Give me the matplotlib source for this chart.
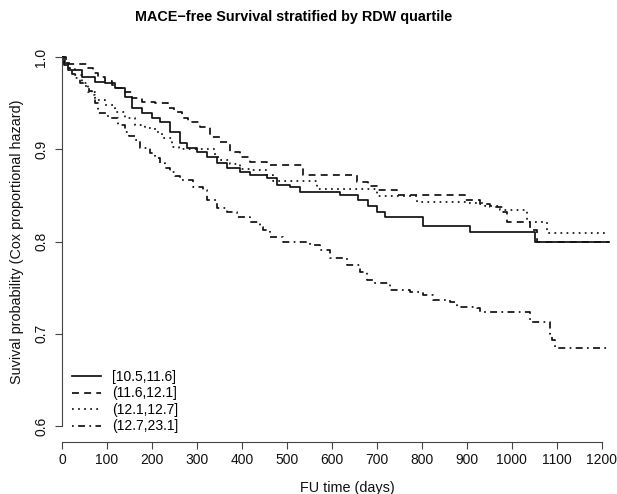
import matplotlib
matplotlib.use('Agg')
import matplotlib.pyplot as plt

plt.rcParams['font.family'] = ['Liberation Sans', 'DejaVu Sans']

# step curves (time in days, survival probability)
t_q1 = [0, 5, 13, 44, 73, 96, 118, 140, 155, 178, 200, 218, 240, 262, 277, 300, 322, 344,
        367, 396, 418, 455, 478, 507, 529, 618, 658, 680, 700, 718, 803, 907, 1051, 1215]
s_q1 = [1.0, 0.991, 0.986, 0.978, 0.973, 0.972, 0.966, 0.957, 0.945, 0.939, 0.934, 0.930,
        0.919, 0.907, 0.901, 0.897, 0.892, 0.885, 0.880, 0.875, 0.872, 0.869, 0.861, 0.859,
        0.854, 0.850, 0.845, 0.838, 0.832, 0.827, 0.817, 0.810, 0.800, 0.800]

t_q2 = [0, 8, 58, 70, 80, 95, 111, 122, 133, 155, 178, 207, 235, 250, 267, 280, 307, 329,
        351, 373, 396, 418, 455, 536, 655, 680, 700, 744, 896, 930, 951, 980, 989, 1040,
        1055, 1215]
s_q2 = [1.0, 0.992, 0.988, 0.983, 0.978, 0.974, 0.970, 0.966, 0.962, 0.955, 0.951, 0.950,
        0.945, 0.940, 0.934, 0.930, 0.924, 0.913, 0.908, 0.897, 0.892, 0.886, 0.883, 0.872,
        0.865, 0.860, 0.856, 0.850, 0.845, 0.841, 0.837, 0.832, 0.821, 0.812, 0.800, 0.800]

t_q3 = [0, 7, 18, 29, 44, 58, 73, 96, 118, 140, 162, 184, 207, 222, 244, 260, 340, 351,
        373, 395, 418, 455, 470, 567, 700, 790, 900, 940, 973, 1033, 1078, 1215]
s_q3 = [1.0, 0.993, 0.987, 0.980, 0.972, 0.962, 0.953, 0.948, 0.940, 0.934, 0.926, 0.923,
        0.919, 0.912, 0.902, 0.900, 0.892, 0.888, 0.884, 0.879, 0.877, 0.872, 0.866, 0.857,
        0.849, 0.843, 0.842, 0.838, 0.834, 0.821, 0.809, 0.809]

t_q4 = [0, 5, 13, 22, 29, 40, 51, 60, 67, 73, 80, 102, 124, 140, 150, 162, 173, 196, 207,
        218, 229, 240, 251, 262, 291, 313, 322, 344, 367, 389, 418, 440, 447, 462, 491, 551,
        573, 596, 633, 662, 678, 691, 729, 773, 802, 824, 862, 878, 922, 929, 1040, 1084,
        1090, 1096, 1215]
s_q4 = [1.0, 0.993, 0.988, 0.982, 0.977, 0.972, 0.968, 0.963, 0.959, 0.950, 0.939, 0.934,
        0.926, 0.919, 0.914, 0.910, 0.901, 0.896, 0.890, 0.885, 0.880, 0.875, 0.871, 0.867,
        0.859, 0.856, 0.845, 0.836, 0.832, 0.827, 0.821, 0.816, 0.812, 0.805, 0.799, 0.796,
        0.791, 0.782, 0.775, 0.767, 0.758, 0.755, 0.747, 0.745, 0.742, 0.737, 0.734, 0.729,
        0.728, 0.724, 0.713, 0.700, 0.693, 0.685, 0.685]

labels = ['[10.5,11.6]', '(11.6,12.1]', '(12.1,12.7]', '(12.7,23.1]']
x_ticks = list(range(0, 1201, 100))
y_ticks = [0.6, 0.7, 0.8, 0.9, 1.0]

W, H = 617, 494
fig = plt.figure(figsize=(W / 100, H / 100), dpi=100)
ax = fig.add_axes([62 / W, 52 / H, 570 / W, 401 / H])

col = '#111111'
styles = ['-', (0, (4, 3)), (0, (1, 2.5)), (0, (1, 2.5, 4, 2.5))]
curves = [(t_q1, s_q1), (t_q2, s_q2), (t_q3, s_q3), (t_q4, s_q4)]
for (t, s), ls, lab in zip(curves, styles, labels):
    ax.step(t, s, where='post', color=col, lw=1.25, linestyle=ls, label=lab)

ax.set_xlim(0, 1267)
ax.set_ylim(0.5827, 1.0173)
ax.set_xticks(x_ticks)
ax.set_yticks(y_ticks)
ax.set_yticklabels(['0.6', '0.7', '0.8', '0.9', '1.0'], rotation=90, va='center')

for side in ['top', 'right']:
    ax.spines[side].set_visible(False)
ax.spines['left'].set_bounds(0.6, 1.0)
ax.spines['bottom'].set_bounds(0, 1200)
for side in ['left', 'bottom']:
    ax.spines[side].set_color('#444444')
    ax.spines[side].set_linewidth(0.8)
ax.tick_params(axis='both', direction='out', length=5, width=0.8, color='#444444',
               labelsize=10, labelcolor='#111111')
ax.tick_params(axis='y', pad=5)
ax.tick_params(axis='x', pad=3)

ax.set_xlabel('FU time (days)', fontsize=10.4, color='#111111', labelpad=10)
ax.set_ylabel('Suvival probability (Cox proportional hazard)', fontsize=10.4,
              color='#111111', labelpad=7)

fig.text(294 / W, 1 - 17 / H, 'MACE\u2212free Survival stratified by RDW quartile',
         ha='center', va='center', fontsize=10.4, fontweight='bold')

ax.legend(loc='lower left', bbox_to_anchor=(0.0, -0.003), frameon=False, fontsize=10,
          handlelength=2.1, handletextpad=0.8, labelspacing=0.18, borderaxespad=0.3)

fig.savefig('out.png', dpi=100)
